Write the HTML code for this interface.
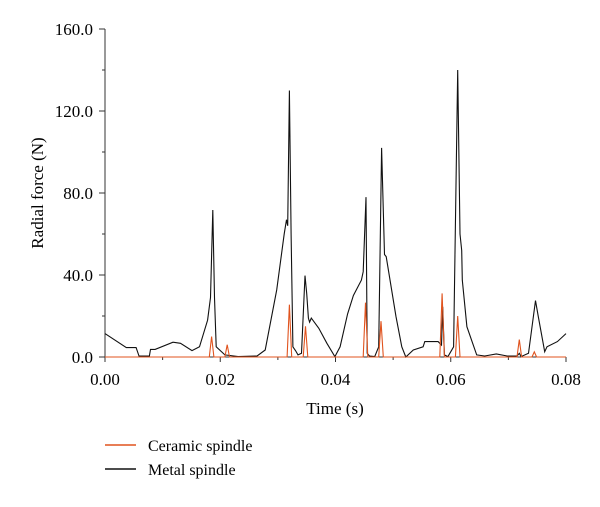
<!DOCTYPE html>
<html><head><meta charset="utf-8"><style>
body{margin:0;background:#fff}
svg{font-family:"Liberation Serif",serif}
</style></head><body>
<svg id="c" width="600" height="502" viewBox="0 0 600 502">
<g id="axes"></g><g id="series"></g>
<text x="335" y="414" font-size="17" text-anchor="middle">Time (s)</text>
<text transform="translate(43,193) rotate(-90)" font-size="17" text-anchor="middle">Radial force (N)</text>
<g>
<line x1="105" y1="445" x2="136" y2="445" stroke="#e0531e" stroke-width="1.4"/>
<text x="148" y="451" font-size="16">Ceramic spindle</text>
<line x1="105" y1="469" x2="136" y2="469" stroke="#111" stroke-width="1.4"/>
<text x="148" y="475" font-size="16">Metal spindle</text>
</g>
</svg>
<script>
const xTicks=[0,0.02,0.04,0.06,0.08];
const xTickLabels=["0.00","0.02","0.04","0.06","0.08"];
const yTicks=[0,40,80,120,160];
const yTickLabels=["0.0","40.0","80.0","120.0","160.0"];
const metalT=[0,.0037,.0054,.0059,.0077,.0079,.0087,.0118,.0131,.0151,.0164,.0178,.0183,.0187,.019,.0193,.0208,.0231,.0264,.0278,.0298,.0311,.0315,.0317,.032,.0323,.0326,.0331,.0335,.0341,.0347,.035,.0353,.0355,.0358,.0371,.0385,.0399,.0408,.0421,.0431,.0445,.0448,.0453,.0455,.0459,.0468,.0475,.048,.0485,.0488,.0505,.0515,.0522,.0535,.0552,.0555,.0578,.0584,.0586,.0589,.0595,.0605,.0612,.0616,.0619,.062,.0628,.0645,.0659,.0679,.0698,.0715,.0719,.0722,.0735,.0747,.0752,.0763,.0767,.0785,.08];
const metalV=[11.4,4.6,4.6,0.5,0.5,3.7,3.7,7.2,6.7,3.1,5,18,29,71.7,29,5,1,0.2,0.5,3.4,32.7,60,67,64,130,60,5,3,1,1.8,39.7,31,19,17,19,14,6.7,0.2,5,21,30,37.5,41.6,78,1.8,0.5,0.2,5,102,50,49,19.7,5,0,3.4,5,7.5,7.5,5.8,24.5,1,0.2,5,140,60,52,37.5,14.8,1,0.5,1.5,0.5,0.5,1.8,0.2,1.8,27.5,19.7,2.6,5,7.5,11.4];
const ceramicPeakT=[.0185,.0212,.032,.0348,.0452,.0479,.0585,.0612,.0719,.0745];
const ceramicPeakV=[10,6,25.5,15,26.5,17.5,31,20,8.5,2.5];
const NS='http://www.w3.org/2000/svg';
const X0=105,X1=566,Y0=357,Y1=29;
const sx=t=>X0+(t-0)/(0.08-0)*(X1-X0);
const sy=v=>Y0-(v/160)*(Y0-Y1);
function mk(tag,attrs,parent){const e=document.createElementNS(NS,tag);for(const k in attrs)e.setAttribute(k,attrs[k]);parent.appendChild(e);return e;}
const ax=document.getElementById('axes'),se=document.getElementById('series');
let e;
e=mk('line',{x1:X0,y1:Y0,x2:X1,y2:Y0,stroke:'#333','stroke-width':1},ax);


e=mk('line',{x1:X0,y1:Y0,x2:X0,y2:Y1,stroke:'#333','stroke-width':1},ax);


xTicks.forEach((t,i)=>{
 mk('line',{x1:sx(t),y1:Y0,x2:sx(t),y2:Y0+5,stroke:'#333'},ax);
 const tx=mk('text',{x:sx(t),y:Y0+28,'font-size':17,'text-anchor':'middle'},ax);
 tx.textContent=xTickLabels[i];
 
 
 if(i<xTicks.length-1)mk('line',{x1:sx(t+0.01),y1:Y0,x2:sx(t+0.01),y2:Y0+3,stroke:'#333'},ax);
});
yTicks.forEach((v,i)=>{
 mk('line',{x1:X0-6,y1:sy(v),x2:X0,y2:sy(v),stroke:'#333'},ax);
 const tx=mk('text',{x:X0-12,y:sy(v)+6,'font-size':17,'text-anchor':'end'},ax);
 tx.textContent=yTickLabels[i];
 
 
 if(i<yTicks.length-1)mk('line',{x1:X0-3,y1:sy(v+20),x2:X0,y2:sy(v+20),stroke:'#333'},ax);
});
const mp=metalT.map((t,i)=>sx(t).toFixed(1)+','+sy(metalV[i]).toFixed(1)).join(' ');
e=mk('polyline',{points:mp,fill:'none',stroke:'#111','stroke-width':1.1},se);


let cp=[[0,0]];
ceramicPeakT.forEach((t,i)=>{cp.push([t-0.0004,0],[t,ceramicPeakV[i]],[t+0.0004,0]);});
cp.push([0.08,0]);
e=mk('polyline',{points:cp.map(p=>sx(p[0]).toFixed(1)+','+sy(p[1]).toFixed(1)).join(' '),fill:'none',stroke:'#e0531e','stroke-width':1.1},se);


</script>
</body></html>
